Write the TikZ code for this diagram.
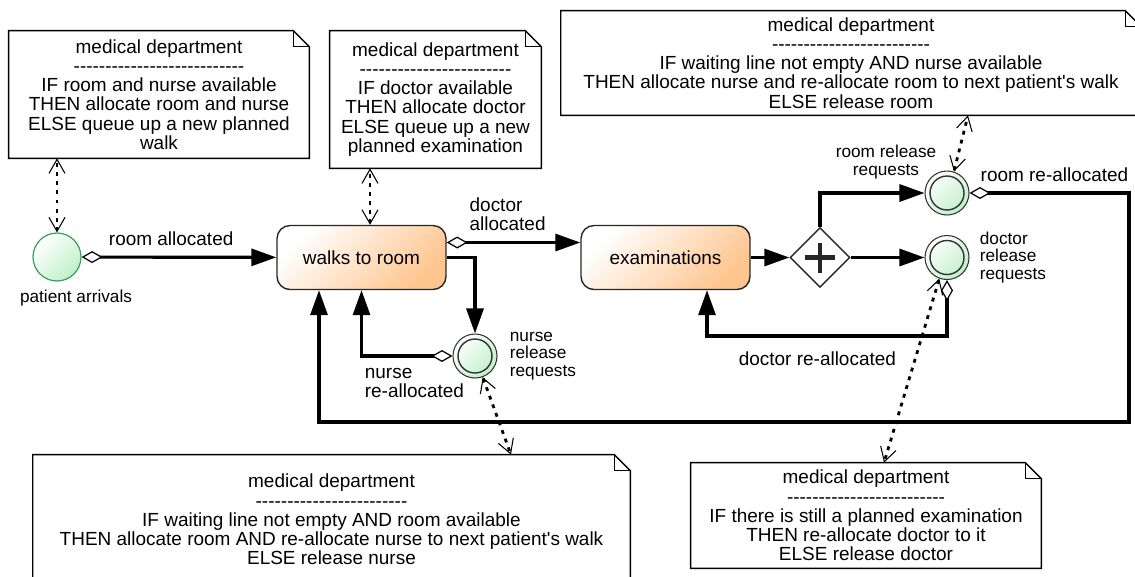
\documentclass[tikz,border=0pt]{standalone}
\usepackage{fontspec}
\setmainfont{Liberation Sans}[Ligatures=TeXOff]
\usetikzlibrary{positioning,arrows.meta,shapes.geometric}

\definecolor{taskorange}{HTML}{FFC58E}
\definecolor{evgreen}{HTML}{BFF0C8}
\definecolor{evline}{HTML}{3E9E60}

% separator line of the notes, hyphens kept apart
\newcommand{\dashes}[1]{\foreach \k in {1,...,#1}{-\kern0pt}}
% note outline with folded corner
\newcommand{\dogear}[1]{%
  \draw[line width=0.8pt] (#1.north west) -- ([xshift=-0.32cm]#1.north east)
    -- ([yshift=-0.32cm]#1.north east) -- (#1.south east) -- (#1.south west) -- cycle;
  \draw[line width=0.8pt] ([xshift=-0.32cm]#1.north east) |- ([yshift=-0.32cm]#1.north east);}

\begin{document}
\begin{tikzpicture}[x=0.02cm,y=-0.02cm,
    every node/.style={font=\fontsize{10.8}{10.9}\selectfont},
    note/.style={align=center,inner sep=0pt},
    task/.style={rectangle,rounded corners=0.26cm,draw=black!85,line width=0.8pt,
      top color=white,bottom color=taskorange,shading angle=45,
      minimum width=3.38cm,minimum height=1.28cm},
    startev/.style={circle,draw=evline,line width=0.7pt,inner sep=0pt,minimum size=0.96cm,
      top color=white,bottom color=evgreen,shading angle=45},
    midev/.style={circle,draw=black!80,line width=0.6pt,inner sep=0pt,minimum size=0.88cm,
      top color=white,bottom color=evgreen,shading angle=45,
      path picture={\draw[line width=0.8pt] (path picture bounding box.center) circle (0.34cm);}},
    gateway/.style={diamond,draw=black!85,fill=white,line width=0.8pt,inner sep=0pt,minimum size=1.2cm,
      path picture={\draw[line width=2.4pt] (path picture bounding box.center) +(-0.3cm,0) -- +(0.3cm,0)
        (path picture bounding box.center) +(0,-0.3cm) -- +(0,0.3cm);}},
    evlbl/.style={inner sep=0pt,font=\fontsize{9.8}{9.9}\selectfont},
    lbl/.style={inner sep=0pt,align=left},
    flow/.style={line width=1.8pt,-{Triangle[length=0.5cm,width=0.34cm]}},
    resflow/.style={line width=1.8pt,
      {Diamond[fill=white,length=0.42cm,width=0.24cm,line width=0.7pt]}-{Triangle[length=0.5cm,width=0.34cm]}},
    assoc/.style={line width=1.6pt,dash pattern=on 2.2pt off 3pt,
      {Straight Barb[length=0.28cm,width=0.32cm,line width=0.6pt]}-{Straight Barb[length=0.28cm,width=0.32cm,line width=0.6pt]}}]
  \useasboundingbox (0,0) rectangle (1135,576);

  % notes
  \node[note,minimum width=6cm,minimum height=2.54cm] (n1) at (159,94.5)
    {medical department\\\dashes{27}\\IF room and nurse available\\THEN allocate room and nurse\\ELSE queue up a new planned\\walk};
  \node[note,minimum width=4.22cm,minimum height=2.74cm] (n2) at (435.5,99.5)
    {medical department\\\dashes{24}\\IF doctor available\\THEN allocate doctor\\ELSE queue up a new\\planned examination};
  \node[note,minimum width=11.6cm,minimum height=2.08cm] (n3) at (851,63)
    {medical department\\\dashes{25}\\IF waiting line not empty AND nurse available\\THEN allocate nurse and re-allocate room to next patient's walk\\ELSE release room};
  \node[note,minimum width=11.94cm,minimum height=2.58cm] (n4) at (331.5,519.5)
    {medical department\\\dashes{24}\\IF waiting line not empty AND room available\\THEN allocate room AND re-allocate nurse to next patient's walk\\ELSE release nurse};
  \node[note,minimum width=7cm,minimum height=2.1cm] (n5) at (866,515.5)
    {medical department\\\dashes{25}\\IF there is still a planned examination\\THEN re-allocate doctor to it\\ELSE release doctor};
  \dogear{n1} \dogear{n2} \dogear{n3} \dogear{n4} \dogear{n5}

  % process
  \node[startev] (start) at (57,257) {};
  \node[evlbl] (startlbl) at (76,298) {patient arrivals};
  \node[task] (walks) at (361.5,257.5) {walks to room};
  \node[task] (exam) at (665.5,257.5) {examinations};
  \node[gateway] (gw) at (820,257.5) {};
  \node[midev] (rr) at (947,193) {};
  \node[midev] (dr) at (947,257.5) {};
  \node[midev] (nr) at (475,356) {};
  \node[evlbl,align=center] (rrlbl) at (886,162) {room release\\requests};
  \node[evlbl,align=left,right=0.2cm of dr] (drlbl) {doctor\\release\\requests};
  \node[evlbl,align=left,right=0.24cm of nr] (nrlbl) {nurse\\release\\requests};
  \coordinate (c1) at (1129,422);
  \coordinate (c2) at (707,336);

  \draw[resflow] (start) -- (walks) node[lbl,pos=0.46,above=5.5pt] {room allocated};
  \draw[resflow] ([yshift=0.3cm]walks.east) -- ([yshift=0.3cm]exam.west)
    node[lbl,pos=0.16,anchor=south west,yshift=6pt] {doctor\\allocated};
  \draw[flow] (walks.east) -| (nr.north);
  \draw[resflow] (nr.west) -| (walks.south)
    node[lbl,pos=0.5,anchor=north west,xshift=1pt,yshift=-6pt] {nurse\\re-allocated};
  \draw[flow] (exam) -- (gw);
  \draw[flow] (gw.north) |- (rr.west);
  \draw[flow] (gw.east) -- (dr.west);
  \draw[resflow] (rr.east) -| (c1) node[lbl,pos=0.03,anchor=south west,yshift=5.5pt] {room re-allocated}
    -| ([xshift=-0.85cm]walks.south);
  \draw[resflow] (dr.south) |- (c2) node[lbl,pos=0.77,anchor=north,yshift=-8pt] {doctor re-allocated}
    -- (c2 |- exam.south);

  % associations to the notes
  \draw[assoc] (start.north) -- (start.north |- n1.south);
  \draw[assoc] ([xshift=0.17cm]walks.north) -- ([xshift=0.17cm]walks.north |- n2.south);
  \draw[assoc] (rr.72) -- ([xshift=2.34cm]n3.south);
  \draw[assoc] (nr.-70) -- ([xshift=3.59cm]n4.north);
  \draw[assoc] (dr.-110) -- ([xshift=0.36cm]n5.north);
\end{tikzpicture}
\end{document}
